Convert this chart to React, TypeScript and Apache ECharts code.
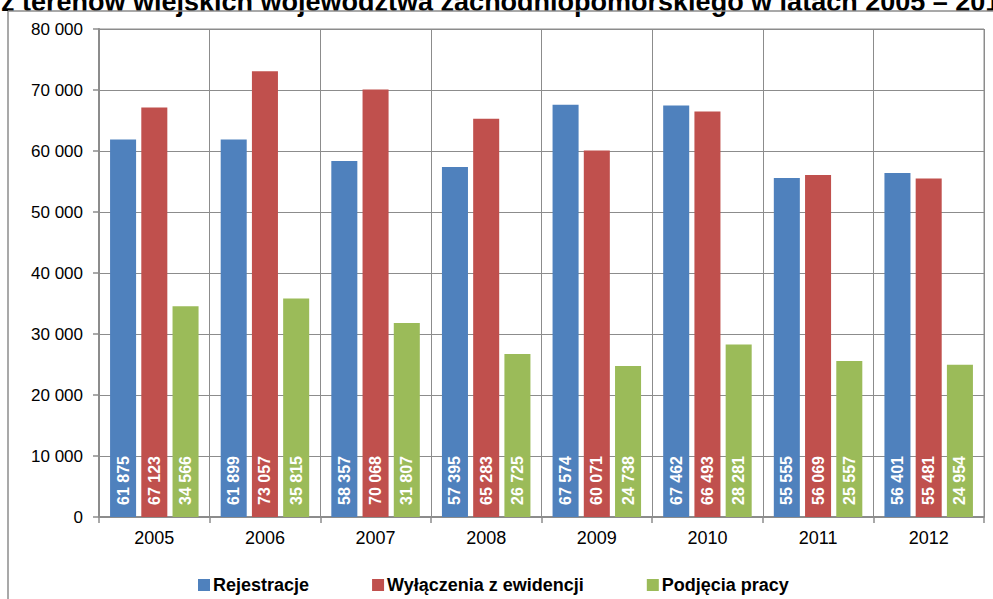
import React, { useEffect, useRef } from "react";
import * as echarts from "echarts";

const categories = ["2005", "2006", "2007", "2008", "2009", "2010", "2011", "2012"];
const rejestracje = [61875, 61899, 58357, 57395, 67574, 67462, 55555, 56401];
const wylaczenia = [67123, 73057, 70068, 65283, 60071, 66493, 56069, 55481];
const podjecia = [34566, 35815, 31807, 26725, 24738, 28281, 25557, 24954];
const seriesNames = ["Rejestracje", "Wyłączenia z ewidencji", "Podjęcia pracy"];
const colors = ["#4F81BD", "#C0504D", "#9BBB59"];
const titleText = "z terenów wiejskich województwa zachodniopomorskiego w latach 2005 – 2012";

const FONT = "'Liberation Sans', Arial, sans-serif";
const fmt = (v: number) => String(v).replace(/\B(?=(\d{3})+(?!\d))/g, " ");

export default function App() {
  const ref = useRef<HTMLDivElement>(null);
  useEffect(() => {
    if (!ref.current) return;
    const chart = echarts.init(ref.current, undefined, { renderer: "svg" });
    const dataSets = [rejestracje, wylaczenia, podjecia];
    chart.setOption({
      animation: false,
      backgroundColor: "#ffffff",
      grid: {
        left: 99,
        right: 9,
        top: 29,
        bottom: 82,
        show: true,
        borderColor: "#8c8c8c",
        borderWidth: 1,
      },
      legend: {
        left: 193,
        top: 571,
        icon: "rect",
        itemWidth: 12,
        itemHeight: 12,
        itemGap: 63,
        data: seriesNames,
        textStyle: { fontFamily: FONT, fontSize: 18, fontWeight: "bold", color: "#000", padding: [0, 0, 0, -2] },
      },
      xAxis: {
        type: "category",
        data: categories,
        axisLine: { show: true, lineStyle: { color: "#8c8c8c", width: 2 } },
        axisTick: { show: true, length: 6, lineStyle: { color: "#8c8c8c", width: 1.5 } },
        splitLine: { show: true, lineStyle: { color: "#8c8c8c", width: 1 } },
        axisLabel: { fontFamily: FONT, fontSize: 18, color: "#000", margin: 12 },
      },
      yAxis: {
        type: "value",
        min: 0,
        max: 80000,
        interval: 10000,
        axisLine: { show: true, lineStyle: { color: "#8c8c8c", width: 2 } },
        axisTick: { show: true, length: 6, lineStyle: { color: "#8c8c8c", width: 1.5 } },
        splitLine: { show: true, lineStyle: { color: "#8c8c8c", width: 1 } },
        axisLabel: { fontFamily: FONT, fontSize: 17, color: "#000", margin: 16, formatter: (v: number) => fmt(v) },
      },
      series: dataSets.map((d, i) => ({
        name: seriesNames[i],
        type: "bar",
        data: d,
        barGap: "20%",
        barCategoryGap: "20%",
        itemStyle: { color: colors[i] },
        label: {
          show: true,
          position: "insideBottom",
          rotate: 90,
          align: "left",
          verticalAlign: "middle",
          distance: 12,
          color: "#ffffff",
          fontFamily: FONT,
          fontSize: 16,
          fontWeight: "bold",
          formatter: (p: any) => fmt(p.value),
        },
      })),
      graphic: [
        {
          type: "text",
          x: 1,
          y: 15,
          style: {
            text: titleText,
            font: `bold 27px ${FONT}`,
            fill: "#000",
            verticalAlign: "bottom",
          },
        },
        {
          type: "line",
          shape: { x1: 8, y1: 11, x2: 993, y2: 11 },
          style: { stroke: "#8c8c8c", lineWidth: 1.5 },
        },
        {
          type: "line",
          shape: { x1: 8, y1: 11, x2: 8, y2: 599 },
          style: { stroke: "#8c8c8c", lineWidth: 1.5 },
        },
      ],
    });
    return () => chart.dispose();
  }, []);
  return (
    <div
      ref={ref}
      style={{ position: "fixed", left: 0, top: 0, width: 993, height: 599, background: "#fff" }}
    />
  );
}
